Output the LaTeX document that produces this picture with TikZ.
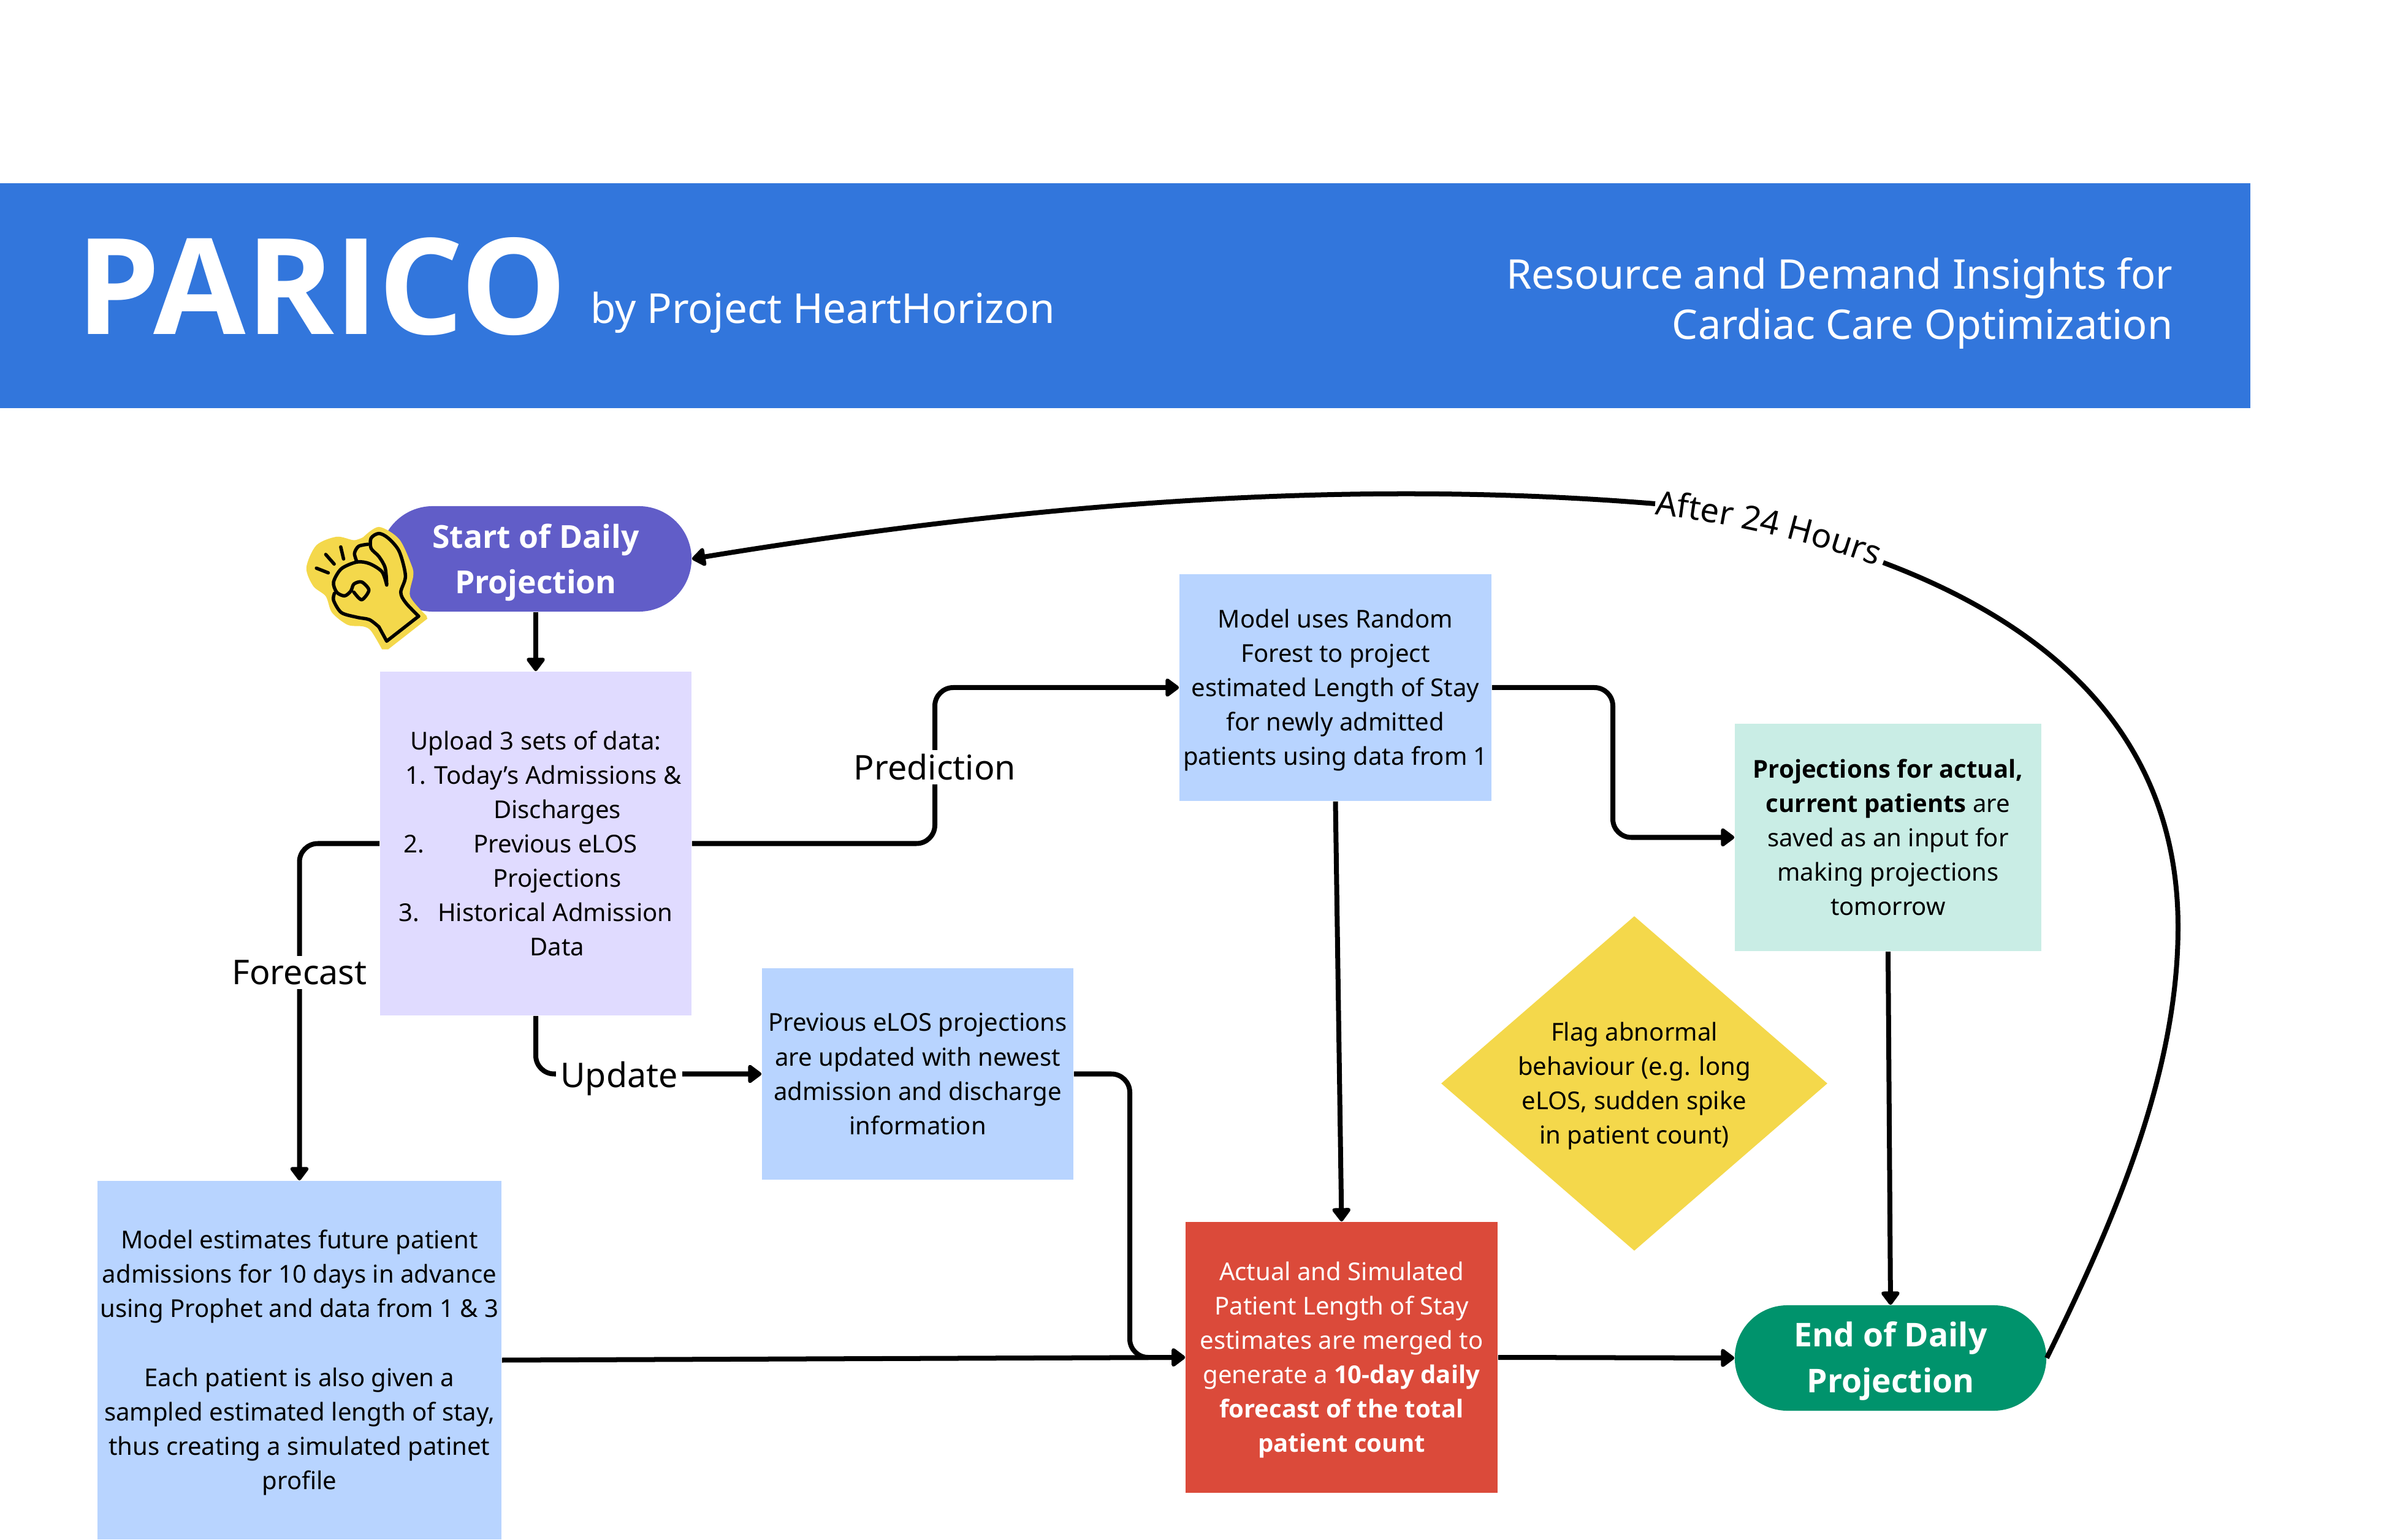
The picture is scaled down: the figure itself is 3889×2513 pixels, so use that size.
\documentclass[tikz,border=0pt]{standalone}
\usepackage{fontspec}
\usetikzlibrary{arrows.meta,shapes.geometric,shapes.misc,decorations.text}
\setmainfont{Noto Sans}[BoldFont={Open Sans Bold}]
\definecolor{banner}{HTML}{3276DC}
\definecolor{startc}{HTML}{615DC8}
\definecolor{uploadc}{HTML}{E0DBFF}
\definecolor{bluec}{HTML}{B8D4FF}
\definecolor{tealc}{HTML}{C9EDE5}
\definecolor{redc}{HTML}{DB4A3A}
\definecolor{yellowc}{HTML}{F4D84B}
\definecolor{greenc}{HTML}{00936C}
\newcommand{\bodyfont}{\fontsize{11.4}{15.95}\selectfont}
\newcommand{\lowstrut}{\rule{0pt}{11pt}}
\newcommand{\pillstrut}{\rule{0pt}{14.5pt}}
\tikzset{
  x=0.01cm,y=-0.01cm,
  boxn/.style={rectangle,inner sep=0pt,align=center,font=\bodyfont},
  pill/.style={rounded rectangle,rounded rectangle arc length=180,inner sep=0pt,align=center,text=white,minimum height=1.72cm},
  conn/.style={line width=0.08cm,-{Triangle[length=0.24cm,width=0.34cm,round]},rounded corners=0.3cm},
  plainconn/.style={line width=0.08cm},
  lbl/.style={fill=white,inner sep=2pt,font=\fontsize{15.8}{18}\selectfont},
  handline/.style={line width=0.055cm,line cap=round,line join=round},
}
\begin{document}
\begin{tikzpicture}
\useasboundingbox (0,0) rectangle (3889,2513);
% banner
\fill[banner] (0,299) rectangle (3671,666);
\node[anchor=base west,inner sep=0pt,text=white,font=\fontsize{62}{70}\selectfont\bfseries] (title) at (124,546) {PARICO};
\node[anchor=base west,inner sep=0pt,text=white,font=\fontsize{19.15}{22}\selectfont] (sub) at (963,528) {by Project HeartHorizon};
\node[anchor=north east,inner sep=0pt,text=white,align=right,font=\fontsize{18.95}{23.3}\selectfont] (tag) at (3545,420) {Resource and Demand Insights for\\Cardiac Care Optimization};
% nodes
\node[pill,fill=startc,minimum width=5.08cm,font=\fontsize{14.7}{21.2}\selectfont\bfseries] (start) at (874,912) {\pillstrut Start of Daily\\Projection};
\node[boxn,fill=uploadc,minimum width=5.08cm,minimum height=5.61cm] (upload) at (874,1376.5) {Upload 3 sets of data:\\
\hspace*{0.25cm}1. Today’s Admissions \&\\
\hspace*{0.7cm}Discharges\\
2.\hspace{0.8cm}Previous eLOS\rule{0.5cm}{0pt}\\
\hspace*{0.7cm}Projections\\
3.\hspace{0.3cm}Historical Admission\\
\hspace*{0.7cm}Data};
\node[boxn,fill=bluec,minimum width=5.09cm,minimum height=3.7cm] (rf) at (2178.5,1122) {\lowstrut Model uses Random\\Forest to project\\estimated Length of Stay\\for newly admitted\\patients using data from 1};
\node[boxn,fill=tealc,minimum width=5.0cm,minimum height=3.71cm] (proj) at (3080,1366.5) {\textbf{Projections for actual,}\\\textbf{current patients} are\\saved as an input for\\making projections\\tomorrow};
\node[boxn,fill=bluec,minimum width=5.08cm,minimum height=3.45cm] (prev) at (1497,1752.5) {Previous eLOS projections\\are updated with newest\\admission and discharge\\information};
\node[boxn,fill=bluec,minimum width=6.59cm,minimum height=5.85cm] (est) at (488.5,2219.5) {\lowstrut Model estimates future patient\\admissions for 10 days in advance\\using Prophet and data from 1 \& 3\\[15.95pt]Each patient is also given a\\sampled estimated length of stay,\\thus creating a simulated patinet\\profile};
\node[boxn,fill=redc,text=white,minimum width=5.09cm,minimum height=4.42cm] (red) at (2188.5,2215) {\lowstrut Actual and Simulated\\Patient Length of Stay\\estimates are merged to\\generate a \textbf{10-day daily}\\\textbf{forecast of the total}\\\textbf{patient count}};
\node[pill,fill=greenc,minimum width=5.08cm,font=\fontsize{15.2}{21.2}\selectfont\bfseries] (endn) at (3084,2216) {\pillstrut End of Daily\\Projection};
\node[diamond,fill=yellowc,inner sep=0pt,minimum width=6.3cm,minimum height=5.46cm] (flagshape) at (2666,1768) {};
\node[boxn] (flag) at (2666,1768) {\lowstrut Flag abnormal\\behaviour (e.g. long\\eLOS, sudden spike\\in patient count)};
% connectors
\draw[conn] (start.south) -- (upload.north);
\draw[conn] (upload.east) -- (1525,1376.5) -- (1525,1122) -- (rf.west);
\draw[conn] (upload.west) -- (488.5,1376.5) -- (est.north);
\draw[conn] (upload.south) -- (874,1752.5) -- (prev.west);
\draw[conn] (prev.east) -- (1843,1752.5) -- (1843,2215) -- (red.west);
\draw[conn] (est.east) -- (red.west);
\draw[conn] (rf.south) -- (red.north);
\draw[conn] (rf.east) -- (2631,1122) -- (2631,1366.5) -- (proj.west);
\draw[conn] (proj.south) -- (endn.north);
\draw[conn] (red.east) -- (endn.west);
\coordinate (backA) at (3072,918);
\coordinate (backB) at (2700,822);
\draw[plainconn] (endn.east) .. controls (3440,2010) and (3553,1760) .. (3553,1513) .. controls (3553,1220) and (3370,1030) .. (backA);
\draw[conn] (backB) .. controls (2250,785) and (1750,810) .. (start.east);
\node[lbl] (lpred) at (1525,1252) {Prediction};
\node[lbl] (lfore) at (488.5,1587) {Forecast};
\node[lbl] (lupd) at (1010,1760) {Update};
% curved label
\path[postaction={decorate,decoration={text along path,text align=center,text={|\fontsize{15.5}{18}\selectfont|After 24 Hours}}}] (2686,838) .. controls (2816,852) and (2946,880) .. (3074,928);
% hand icon (drawn in a local frame)
\begin{scope}[shift={(460,780)},x=0.0051020cm,y=-0.003333cm]
\fill[yellowc] plot[smooth] coordinates {(260,290) (310,240) (375,300) (415,430) (420,480) (410,580) (462,675)} -- (465,690) -- (340,840) -- (320,840) -- plot[smooth] coordinates {(320,840) (285,750) (260,728) (210,720) (160,660) (140,580) (100,530) (78,440) (110,330) (175,288) (230,305) (260,290)} -- cycle;
\draw[handline] plot[smooth] coordinates {(335,525) (320,460) (280,420) (240,412) (190,445) (165,510) (175,560) (200,578) (220,555) (230,520) (255,510) (278,550) (255,597) (230,560)};
\draw[handline] plot[smooth] coordinates {(168,565) (165,600) (190,660) (240,683) (280,695) (310,730)};
\draw[handline] (310,730) -- (335,800) -- (437,678);
\draw[handline] plot[smooth] coordinates {(437,678) (395,610) (380,560) (395,480) (375,360) (340,295) (310,272) (285,295) (285,345) (310,385) (330,440) (335,520)};
\draw[handline] plot[smooth] coordinates {(240,412) (232,370) (245,335) (275,325)};
\draw[handline] (110,442) -- (148,465);
\draw[handline] (140,375) -- (167,422);
\draw[handline] (188,338) -- (197,397);
\end{scope}
\end{tikzpicture}
\end{document}
